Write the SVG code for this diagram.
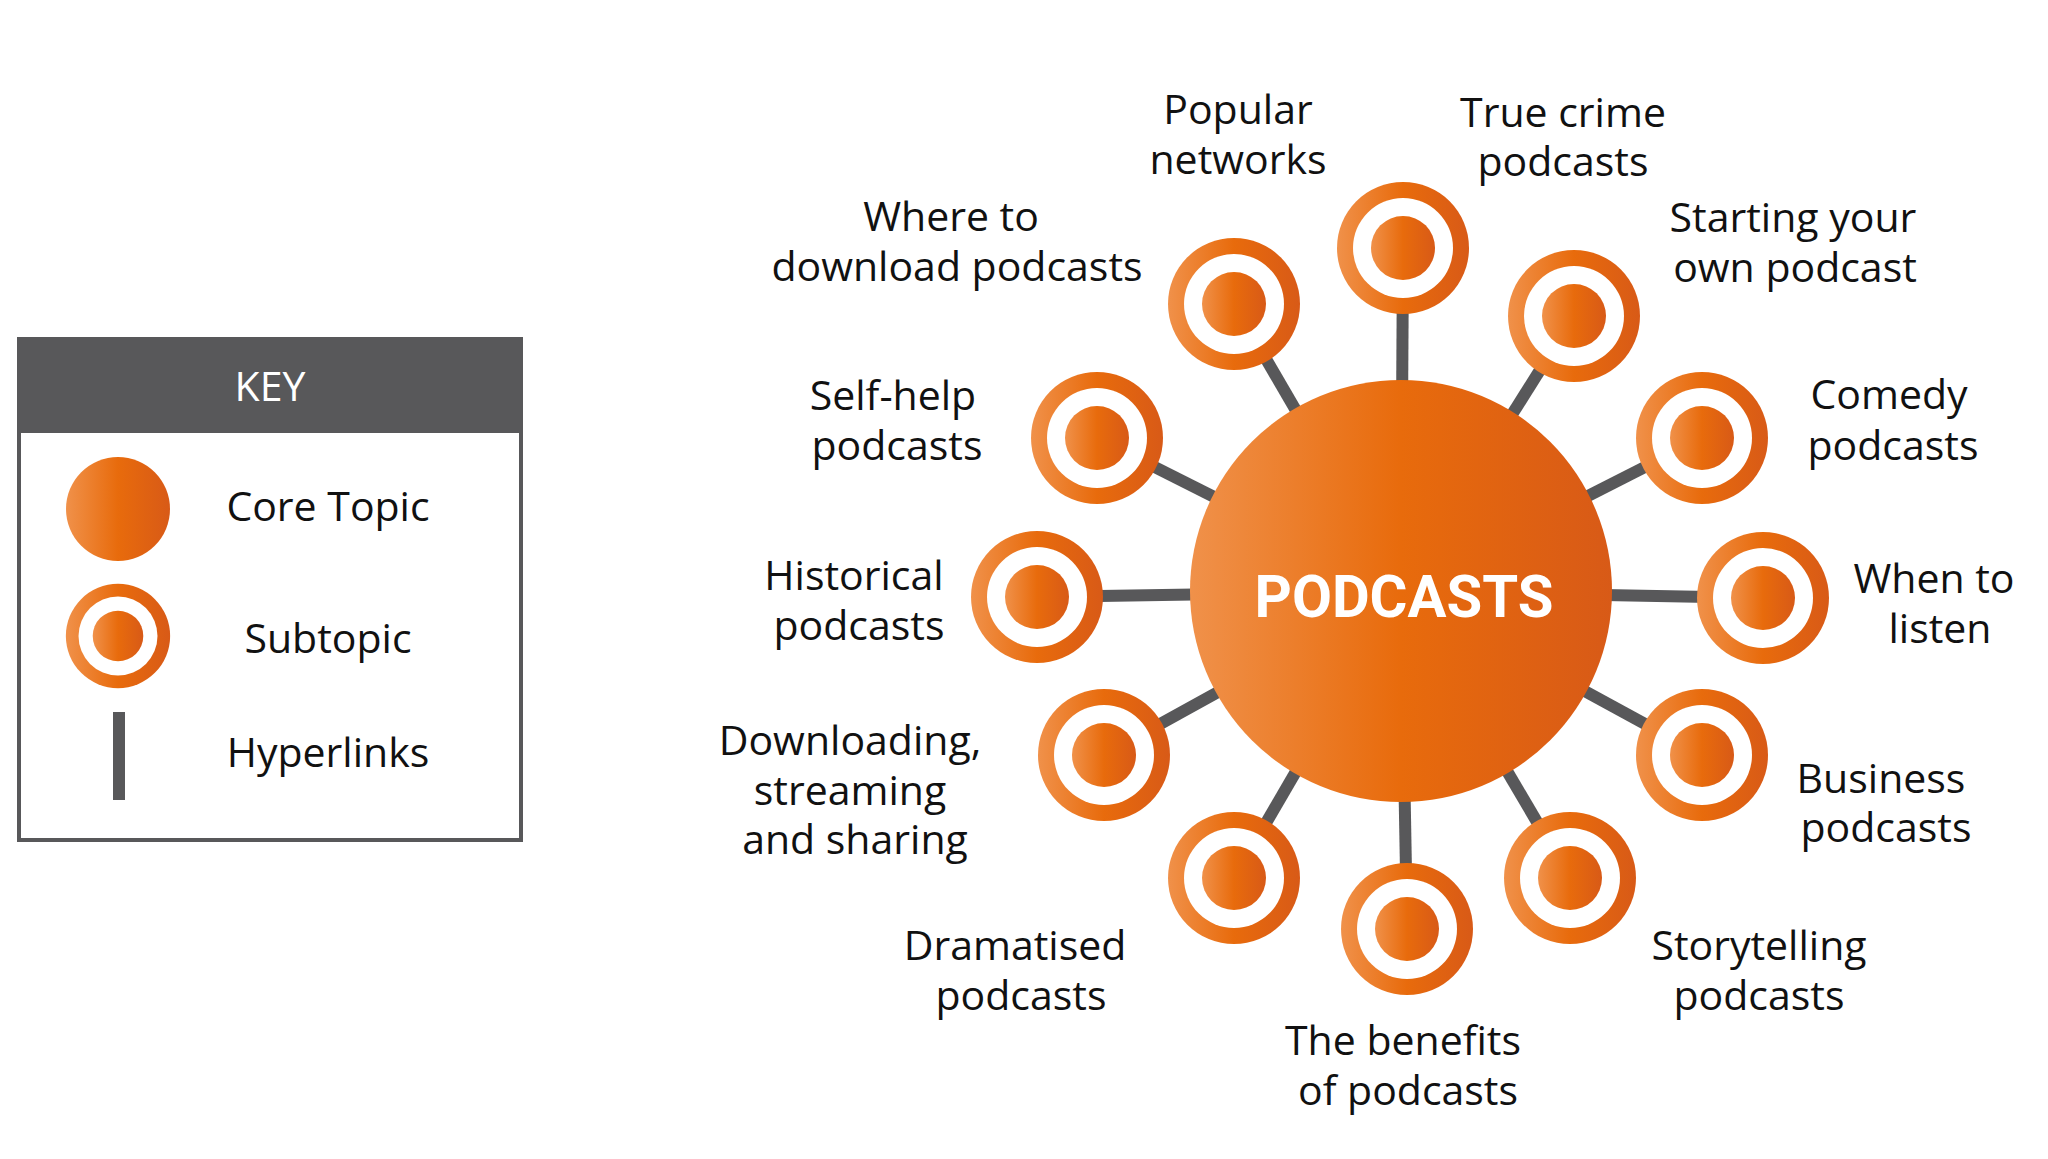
<svg xmlns="http://www.w3.org/2000/svg" width="2048" height="1159" viewBox="0 0 2048 1159">
<defs>
<linearGradient id="og" x1="0" y1="0" x2="1" y2="0">
<stop offset="0" stop-color="#f0914a"/>
<stop offset="0.5" stop-color="#e86b0c"/>
<stop offset="1" stop-color="#d85a17"/>
</linearGradient>
<g id="sub">
<circle r="66" fill="url(#og)"/>
<circle r="50" fill="#fff"/>
<circle r="32" fill="url(#og)"/>
</g>
</defs>
<style>
.lbl{font-family:"Open Sans","Liberation Sans",sans-serif;font-size:41px;fill:#111;text-anchor:middle}
.conn{stroke:#58585a;stroke-width:12;fill:none}
.core{font-family:Roboto,"Liberation Sans",sans-serif;font-weight:bold;font-size:60px;fill:#fff;text-anchor:middle}
</style>
<rect width="2048" height="1159" fill="#fff"/>

<g id="key">
<rect x="19" y="339" width="502" height="501" fill="#fff" stroke="#58585a" stroke-width="4"/>
<rect x="17" y="337" width="506" height="96" fill="#58585a"/>
<text x="270" y="401" class="lbl" style="fill:#fff">KEY</text>
<circle cx="118" cy="509" r="52" fill="url(#og)"/>
<text x="328" y="521" class="lbl">Core Topic</text>
<g transform="translate(118,636) scale(0.79)"><use href="#sub"/></g>
<text x="328" y="653" class="lbl">Subtopic</text>
<rect x="113" y="712" width="12" height="88" fill="#58585a"/>
<text x="328" y="767" class="lbl">Hyperlinks</text>
</g>

<g id="connectors">
<line class="conn" x1="1401" y1="591" x2="1403" y2="248"/>
<line class="conn" x1="1401" y1="591" x2="1574" y2="316"/>
<line class="conn" x1="1401" y1="591" x2="1702" y2="438"/>
<line class="conn" x1="1401" y1="591" x2="1763" y2="598"/>
<line class="conn" x1="1401" y1="591" x2="1702" y2="755"/>
<line class="conn" x1="1401" y1="591" x2="1570" y2="878"/>
<line class="conn" x1="1401" y1="591" x2="1407" y2="929"/>
<line class="conn" x1="1401" y1="591" x2="1234" y2="878"/>
<line class="conn" x1="1401" y1="591" x2="1104" y2="755"/>
<line class="conn" x1="1401" y1="591" x2="1037" y2="597"/>
<line class="conn" x1="1401" y1="591" x2="1097" y2="438"/>
<line class="conn" x1="1401" y1="591" x2="1234" y2="304"/>
</g>

<g id="core">
<circle cx="1401" cy="591" r="211" fill="url(#og)"/>
<text x="1404" y="617" class="core" textLength="299" lengthAdjust="spacingAndGlyphs">PODCASTS</text>
</g>

<g id="popular-networks">
<use href="#sub" x="1403" y="248"/>
<text class="lbl"><tspan x="1238" y="124">Popular</tspan><tspan x="1238" y="174">networks</tspan></text>
</g>
<g id="true-crime">
<text class="lbl"><tspan x="1563" y="127">True crime</tspan><tspan x="1563" y="176">podcasts</tspan></text>
</g>
<g id="starting-your-own">
<use href="#sub" x="1574" y="316"/>
<text class="lbl"><tspan x="1793" y="232">Starting your</tspan><tspan x="1795" y="282">own podcast</tspan></text>
</g>
<g id="comedy">
<use href="#sub" x="1702" y="438"/>
<text class="lbl"><tspan x="1889" y="409">Comedy</tspan><tspan x="1893" y="460">podcasts</tspan></text>
</g>
<g id="when-to-listen">
<use href="#sub" x="1763" y="598"/>
<text class="lbl"><tspan x="1934" y="593">When to</tspan><tspan x="1940" y="643">listen</tspan></text>
</g>
<g id="business">
<use href="#sub" x="1702" y="755"/>
<text class="lbl"><tspan x="1881" y="793">Business</tspan><tspan x="1886" y="842">podcasts</tspan></text>
</g>
<g id="storytelling">
<use href="#sub" x="1570" y="878"/>
<text class="lbl"><tspan x="1759" y="960">Storytelling</tspan><tspan x="1759" y="1010">podcasts</tspan></text>
</g>
<g id="benefits">
<use href="#sub" x="1407" y="929"/>
<text class="lbl"><tspan x="1403" y="1055">The benefits</tspan><tspan x="1408" y="1105">of podcasts</tspan></text>
</g>
<g id="dramatised">
<use href="#sub" x="1234" y="878"/>
<text class="lbl"><tspan x="1015" y="960">Dramatised</tspan><tspan x="1021" y="1010">podcasts</tspan></text>
</g>
<g id="downloading">
<use href="#sub" x="1104" y="755"/>
<text class="lbl"><tspan x="850" y="755">Downloading,</tspan><tspan x="850" y="805">streaming</tspan><tspan x="855" y="854">and sharing</tspan></text>
</g>
<g id="historical">
<use href="#sub" x="1037" y="597"/>
<text class="lbl"><tspan x="854" y="590">Historical</tspan><tspan x="859" y="640">podcasts</tspan></text>
</g>
<g id="self-help">
<use href="#sub" x="1097" y="438"/>
<text class="lbl"><tspan x="893" y="410">Self-help</tspan><tspan x="897" y="460">podcasts</tspan></text>
</g>
<g id="where-to-download">
<use href="#sub" x="1234" y="304"/>
<text class="lbl"><tspan x="951" y="231">Where to</tspan><tspan x="957" y="281">download podcasts</tspan></text>
</g>
</svg>
